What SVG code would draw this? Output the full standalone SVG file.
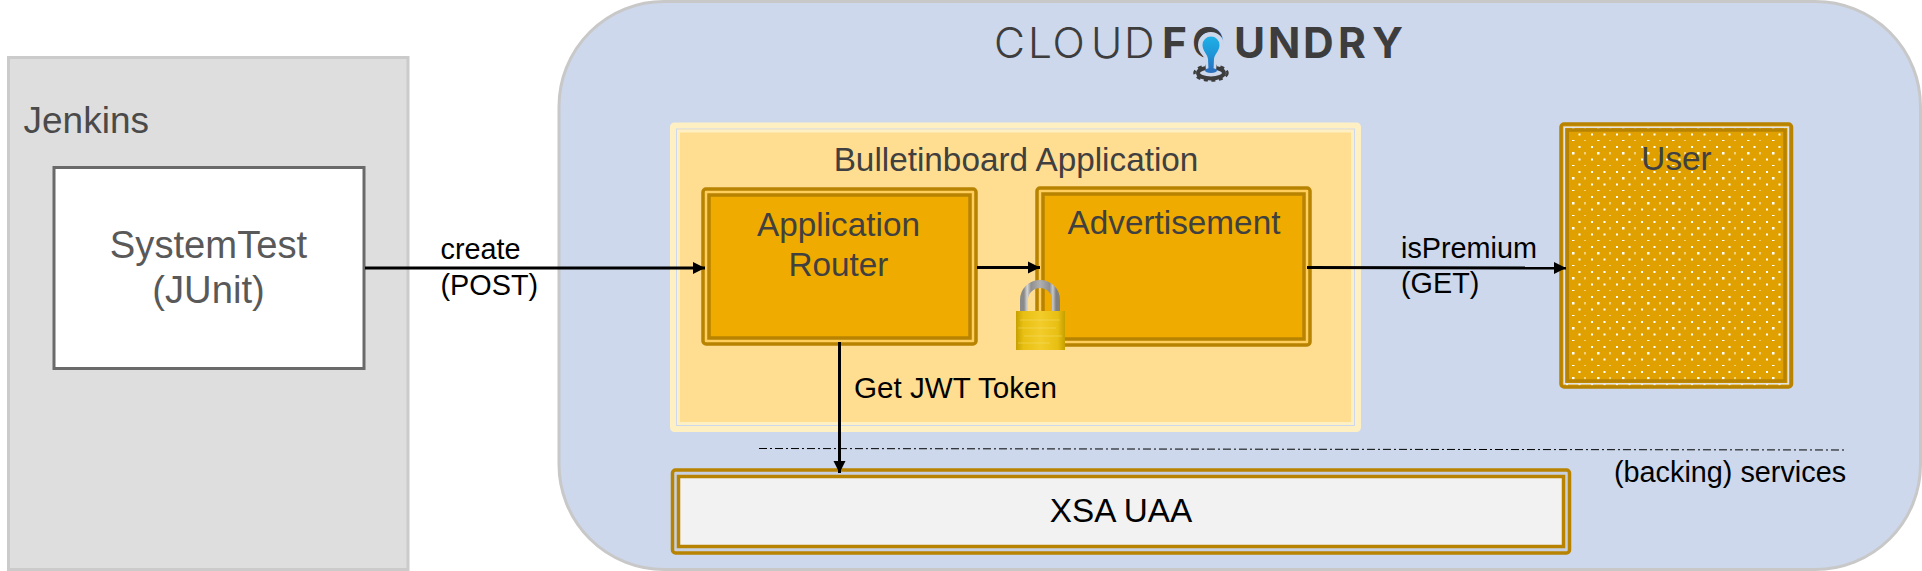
<svg xmlns="http://www.w3.org/2000/svg" width="1922" height="571" viewBox="0 0 1922 571">
<style>
text{font-family:"Liberation Sans",Arial,sans-serif}
.t33{font-size:33.300px;fill:#404040;text-anchor:middle}
.t29{font-size:28.800px;fill:#000}
.logo{font-family:Inter,"Liberation Sans",sans-serif;font-size:42.500px;fill:#3d3d3d}
.band{stroke:#b88300;stroke-width:3.500}
.conn{fill:none;stroke:#000;stroke-width:3}
</style>
<defs>
<marker id="arrow" markerUnits="userSpaceOnUse" markerWidth="13" markerHeight="14" refX="12" refY="7" orient="auto"><path d="M0 1L12 7L0 13Z" fill="#000"/></marker>
<pattern id="dots" width="25" height="25" patternUnits="userSpaceOnUse" x="1572" y="127">
<rect width="25" height="25" fill="#dfa000"/>
<g fill="#fff">
<rect x="0" y="0" width="2.500" height="2.500"/>
<rect x="12.500" y="0" width="1" height="2.500"/>
<rect x="6.500" y="6.500" width="2" height="2"/>
<rect x="19" y="6.500" width="2" height="2"/>
<rect x="0" y="13" width="2.500" height="1"/>
<rect x="12.500" y="13" width="1" height="1"/>
<rect x="6.500" y="19" width="2" height="2"/>
<rect x="19" y="19" width="2" height="2"/>
</g>
</pattern>
<linearGradient id="gold" x1="0" y1="0" x2="1" y2="0"><stop offset="0" stop-color="#c6a000"/><stop offset=".15" stop-color="#e8bf12"/><stop offset=".5" stop-color="#f2cc2a"/><stop offset=".85" stop-color="#e8bf12"/><stop offset="1" stop-color="#c6a000"/></linearGradient>
<linearGradient id="steel" x1="0" y1="0" x2="1" y2="0"><stop offset="0" stop-color="#8a8a8a"/><stop offset=".1" stop-color="#d6d6d6"/><stop offset=".22" stop-color="#8e8e8e"/><stop offset=".5" stop-color="#b0b0b0"/><stop offset=".8" stop-color="#8e8e8e"/><stop offset=".9" stop-color="#c8c8c8"/><stop offset="1" stop-color="#808080"/></linearGradient>
<linearGradient id="drop" x1="0" y1="0" x2="0" y2="1"><stop offset="0" stop-color="#1fb0e8"/><stop offset=".5" stop-color="#1f97d8"/><stop offset="1" stop-color="#2a72c0"/></linearGradient>
</defs>
<g id="jenkins">
<rect x="8.500" y="57.500" width="399.500" height="512" fill="#dedede" stroke="#cbcbcb" stroke-width="3"/>
<text x="23.500" y="133" font-size="37" fill="#4a4a4a">Jenkins</text>
</g>
<g id="systemtest">
<rect x="54" y="167.500" width="310" height="201" fill="#fff" stroke="#6a6a6a" stroke-width="3"/>
<text x="208.500" y="258" font-size="38.200" fill="#595959" text-anchor="middle">SystemTest</text>
<text x="208.500" y="303" font-size="38.200" fill="#595959" text-anchor="middle">(JUnit)</text>
</g>
<g id="cloudfoundry">
<rect x="559" y="1.500" width="1361.500" height="568" rx="105" ry="105" fill="#cdd8ec" stroke="#c8c8c8" stroke-width="3"/>
<text class="logo" x="994 1028 1052.500 1091 1124" y="58" font-weight="300">CLOUD</text>
<text class="logo" x="1162 1192 1234 1268 1303 1338 1372" y="58" font-weight="700">FOUNDRY</text>
<ellipse cx="1211" cy="73" rx="16.500" ry="7.500" fill="none" stroke="#3d3d3d" stroke-width="2.500" stroke-dasharray="4 3.500"/>
<ellipse cx="1211" cy="73" rx="13" ry="5.500" fill="none" stroke="#3d3d3d" stroke-width="4"/>
<path d="M1198 45a13 13 0 0 1 26 0c0 8-6 10-7 15l-1 11h-10l-1-11c-1-5-7-7-7-15Z" fill="#cdd8ec"/>
<path d="M1202.500 45a8.500 8.500 0 0 1 17 0c0 6-5 9-5.500 14l-.5 11h-5l-.5-11c-.5-5-5.500-8-5.500-14Z" fill="url(#drop)"/>
<ellipse cx="1211" cy="70.500" rx="6" ry="2.500" fill="#2a72c0"/>
</g>
<g id="bulletinboard">
<rect x="671.500" y="124" width="688" height="306.500" rx="3" fill="#fff0c4" stroke="#fff0c4" stroke-width="3"/>
<rect x="676.500" y="129" width="678" height="296.500" fill="#ffde91" stroke="#cdd8ec" stroke-width="1"/>
<rect x="678.500" y="131" width="674" height="292.500" fill="#ffde91" stroke="#fff0c4" stroke-width="3"/>
<text class="t33" x="1016" y="171">Bulletinboard Application</text>
</g>
<g id="router">
<rect x="703" y="189" width="273" height="155" rx="3" fill="#ffce5c" class="band"/>
<rect x="709" y="195" width="261" height="143" fill="#f0ab00" class="band"/>
<text class="t33" x="838.500" y="236">Application</text>
<text class="t33" x="838.500" y="276">Router</text>
</g>
<g id="advertisement">
<rect x="1037" y="188" width="273" height="157" rx="3" fill="#ffce5c" class="band"/>
<rect x="1043" y="194" width="261" height="145" fill="#f0ab00" class="band"/>
<text class="t33" x="1174" y="234">Advertisement</text>
</g>
<g id="user">
<rect x="1561" y="124" width="230.500" height="263" rx="3" fill="url(#dots)" class="band"/>
<rect x="1564.200" y="127.200" width="224" height="256.600" fill="none" stroke="#e4e6ea" stroke-width="1.500"/>
<rect x="1567.300" y="130" width="217.700" height="251" fill="none" class="band"/>
<text class="t33" x="1676.500" y="170">User</text>
</g>
<g id="lock">
<path d="M1024 312V300a16 16 0 0 1 32 0V312" fill="none" stroke="url(#steel)" stroke-width="8"/>
<rect x="1016" y="311" width="49" height="39" fill="url(#gold)"/>
<path d="M1020 320H1060M1018 328H1056M1024 336H1062M1018 343H1050" stroke="#f8e070" stroke-width="1" opacity=".5"/>
</g>
<g id="xsauaa">
<rect x="672.500" y="470" width="897" height="83" rx="3" fill="#c8d0e0" stroke="#b88300" stroke-width="3.500"/>
<rect x="678.500" y="476.500" width="885" height="70" fill="#f2f2f2" stroke="#b88300" stroke-width="3.500"/>
<text x="1121" y="522" font-size="33.300" fill="#000" text-anchor="middle">XSA UAA</text>
</g>
<g id="connectors">
<path class="conn" d="M365 268H705" marker-end="url(#arrow)"/>
<path class="conn" d="M977 267.500H1040" marker-end="url(#arrow)"/>
<path class="conn" d="M1307 267.500L1566 268" marker-end="url(#arrow)"/>
<path class="conn" d="M839.500 342V473" marker-end="url(#arrow)"/>
<path d="M759 448.500L1847 450" fill="none" stroke="#000" stroke-width="1" stroke-dasharray="8 3 2 3"/>
</g>
<g id="labels">
<text class="t29" x="440.500" y="259">create</text>
<text class="t29" x="440.500" y="295">(POST)</text>
<text class="t29" x="1401" y="258">isPremium</text>
<text class="t29" x="1401" y="293">(GET)</text>
<text class="t29" x="854" y="398" textLength="203" lengthAdjust="spacingAndGlyphs">Get JWT Token</text>
<text class="t29" x="1614" y="482">(backing) services</text>
</g>
</svg>
